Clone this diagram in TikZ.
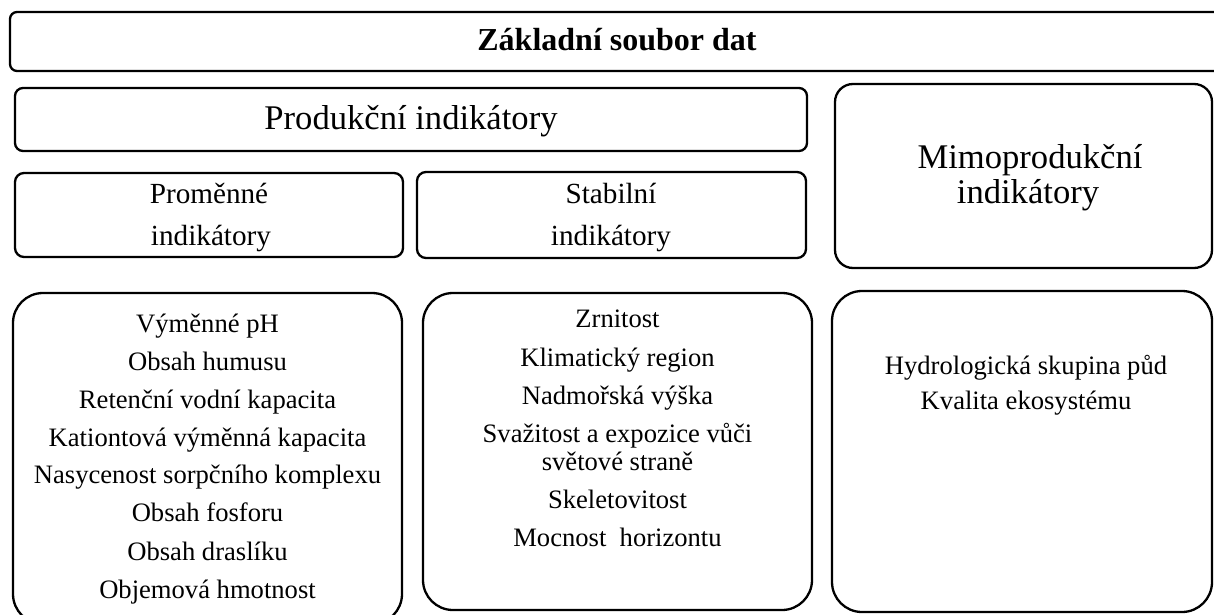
\documentclass[tikz,border=0pt]{standalone}
\usepackage{fontspec}
\setmainfont{Liberation Serif}
\begin{document}
\begin{tikzpicture}[x=0.5pt,y=-0.5pt,
  frame/.style={draw=black, line width=1.15pt, rounded corners=#1},
  frame/.default=4pt,
  txt/.style={anchor=base, inner sep=0pt, font=\fontsize{13.3}{15}\selectfont},
  mid/.style={anchor=base, inner sep=0pt, font=\fontsize{14.6}{17}\selectfont},
  big/.style={anchor=base, inner sep=0pt, font=\fontsize{17.3}{20}\selectfont},
  ttl/.style={anchor=base, inner sep=0pt, font=\bfseries\fontsize{16}{19}\selectfont}]
\clip (0,0) rectangle (1214,615);
% boxes
\draw[frame=3.5pt] (10,12) rectangle (1230,71);
\draw[frame=4pt] (15,88) rectangle (807,151);
\draw[frame=4.5pt] (15,173) rectangle (403,257);
\draw[frame=4.5pt] (417,172) rectangle (806,258);
\draw[frame=9pt] (835,84) rectangle (1212,268);
\draw[frame=15pt] (13,293) rectangle (402,624);
\draw[frame=15pt] (423,293) rectangle (812,610);
\draw[frame=15pt] (832,291) rectangle (1212,612);
% titles
\node[ttl] (t0) at (617,51) {Základní soubor dat};
\node[big] (t1) at (411,129) {Produkční indikátory};
\node[mid] (t2a) at (209,203) {Proměnné};
\node[mid] (t2b) at (211,245) {indikátory};
\node[mid] (t3a) at (611,203) {Stabilní};
\node[mid] (t3b) at (611,245) {indikátory};
\node[big] (t4a) at (1030,168) {Mimoprodukční};
\node[big] (t4b) at (1028,203) {indikátory};
% left list
\node[txt] (a1) at (207.5,332) {Výměnné pH};
\node[txt] (a2) at (207.5,370) {Obsah humusu};
\node[txt] (a3) at (207.5,408.3) {Retenční vodní kapacita};
\node[txt] (a4) at (207.5,446) {Kationtová výměnná kapacita};
\node[txt] (a5) at (207.5,483.5) {Nasycenost sorpčního komplexu};
\node[txt] (a6) at (207.5,521.7) {Obsah fosforu};
\node[txt] (a7) at (207.5,560) {Obsah draslíku};
\node[txt] (a8) at (207.5,598.3) {Objemová hmotnost};
% middle list
\node[txt] (b1) at (617.5,327.7) {Zrnitost};
\node[txt] (b2) at (617.5,366) {Klimatický region};
\node[txt] (b3) at (617.5,404.3) {Nadmořská výška};
\node[txt] (b4) at (617.5,442.7) {Svažitost a expozice vůči};
\node[txt] (b5) at (617.5,470) {světové straně};
\node[txt] (b6) at (617.5,508.3) {Skeletovitost};
\node[txt] (b7) at (617.5,546.7) {Mocnost\ \ horizontu};
% right list
\node[txt] (c1) at (1026,374) {Hydrologická skupina půd};
\node[txt] (c2) at (1026,409) {Kvalita ekosystému};
\end{tikzpicture}
\end{document}
